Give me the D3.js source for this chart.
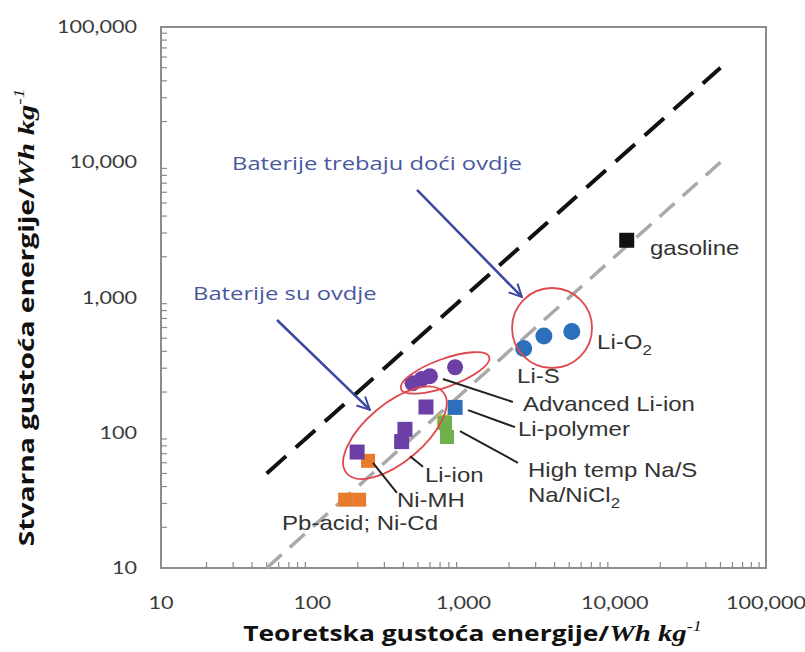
<!DOCTYPE html>
<meta charset="utf-8">
<script src="https://d3js.org/d3.v7.min.js"></script>
<style>
  body { margin: 0; background: #fff; }
  svg { display: block; }
</style>
<svg></svg>
<script>

    var width = 805, height = 652;
    var margin = ({top: 27, right: 39, bottom: 84, left: 161});

    // tick labels
    var tickValues = [10, 100, 1000, 10000, 100000];
    var tickLabels = ["10", "100", "1,000", "10,000", "100,000"];

    // series (theoretical Wh/kg, practical Wh/kg)
    var liO2_x = [2500, 3400, 5200];
    var liO2_y = [420, 520, 560];
    var liS_x = [460, 530, 600, 880];
    var liS_y = [232, 250, 262, 305];
    var liIon_x = [198, 390, 410, 565];
    var liIon_y = [72, 86, 106, 155];
    var liPoly_x = [880];
    var liPoly_y = [154];
    var naNiCl_x = [742];
    var naNiCl_y = [121];
    var naS_x = [755, 778];
    var naS_y = [118, 93];
    var niMH_x = [234];
    var niMH_y = [62];
    var pbNiCd_x = [165, 204];
    var pbNiCd_y = [32, 32];
    var gasoline_x = [12000];
    var gasoline_y = [2650];

    // reference lines
    var targetLine = [[50, 50], [50000, 50000]];
    var practicalLine = [[50, 10], [50000, 10000]];

    var x = d3.scaleLog().domain([10, 100000]).range([margin.left, width - margin.right]);
    var y = d3.scaleLog().domain([10, 100000]).range([height - margin.bottom, margin.top]);

    var svg = d3.select("svg")
        .attr("width", width)
        .attr("height", height)
        .attr("viewBox", [0, 0, width, height]);

    var labelFont = "'Liberation Sans', Arial, sans-serif";
    var tickFont = "Lato, 'Open Sans', sans-serif";
    var stretch = 1.2;   // the source figure is stretched sideways

    // minor ticks, pointing inward
    var minor = [];
    for (var k = 1; k < 5; k++) for (var m = 2; m <= 9; m++) minor.push(m * Math.pow(10, k));

    svg.append("g")
        .selectAll("line")
        .data(minor)
        .join("line")
        .attr("x1", d => x(d)).attr("x2", d => x(d))
        .attr("y1", y(10)).attr("y2", y(10) - 6)
        .attr("stroke", "#8a8a8a").attr("stroke-width", 1.2);

    svg.append("g")
        .selectAll("line")
        .data(minor)
        .join("line")
        .attr("y1", d => y(d)).attr("y2", d => y(d))
        .attr("x1", x(10)).attr("x2", x(10) + 6)
        .attr("stroke", "#8a8a8a").attr("stroke-width", 1.2);

    // frame
    svg.append("rect")
        .attr("x", x(10)).attr("y", y(100000))
        .attr("width", x(100000) - x(10))
        .attr("height", y(10) - y(100000))
        .attr("fill", "none")
        .attr("stroke", "#8c8c8c")
        .attr("stroke-width", 2);

    // tick labels
    svg.append("g")
        .selectAll("text")
        .data(tickValues)
        .join("text")
        .attr("transform", d => `translate(${x(d)},${y(10) + 41}) scale(${stretch},1)`)
        .attr("text-anchor", "middle")
        .attr("font-family", tickFont)
        .attr("font-size", 18)
        .attr("fill", "#3a3a3a")
        .text((d, i) => tickLabels[i]);

    svg.append("g")
        .selectAll("text")
        .data(tickValues)
        .join("text")
        .attr("transform", d => `translate(${x(10) - 24},${y(d) + 6}) scale(${stretch},1)`)
        .attr("text-anchor", "end")
        .attr("font-family", tickFont)
        .attr("font-size", 18)
        .attr("fill", "#3a3a3a")
        .text((d, i) => tickLabels[i]);

    // dashed reference lines
    var line = d3.line().x(d => x(d[0])).y(d => y(d[1]));

    svg.append("path")
        .attr("d", line(practicalLine))
        .attr("fill", "none")
        .attr("stroke", "#a9a9a9")
        .attr("stroke-width", 3.5)
        .attr("stroke-dasharray", "20,11");

    svg.append("path")
        .attr("d", line(targetLine))
        .attr("fill", "none")
        .attr("stroke", "#111")
        .attr("stroke-width", 4)
        .attr("stroke-dasharray", "26,13");

    // markers
    function squares(xs, ys, color, size) {
        svg.append("g")
            .selectAll("rect")
            .data(xs)
            .join("rect")
            .attr("x", d => x(d) - size / 2)
            .attr("y", (d, i) => y(ys[i]) - size / 2)
            .attr("width", size).attr("height", size)
            .attr("fill", color);
    }
    function dots(xs, ys, color, r) {
        svg.append("g")
            .selectAll("circle")
            .data(xs)
            .join("circle")
            .attr("cx", d => x(d))
            .attr("cy", (d, i) => y(ys[i]))
            .attr("r", r)
            .attr("fill", color);
    }

    squares(pbNiCd_x, pbNiCd_y, "#e87b2c", 14);
    squares(niMH_x, niMH_y, "#e87b2c", 14);
    squares(liIon_x, liIon_y, "#6b3fa6", 15);
    squares(naNiCl_x, naNiCl_y, "#b7c23e", 14);
    squares(naS_x, naS_y, "#6fb04c", 14);
    squares(liPoly_x, liPoly_y, "#2d6fba", 15);
    squares(gasoline_x, gasoline_y, "#111", 15);
    dots(liS_x, liS_y, "#6b3fa6", 8);
    dots(liO2_x, liO2_y, "#2d6fba", 8.5);

    // red ellipses
    var ellipses = [
        {cx: 3850, cy: 595, rx: 40, ry: 40, angle: 0},
        {cx: 755, cy: 277, rx: 47, ry: 14, angle: -20},
        {cx: 352, cy: 100, rx: 63, ry: 29, angle: -40}
    ];
    svg.append("g")
        .selectAll("ellipse")
        .data(ellipses)
        .join("ellipse")
        .attr("transform", d => `translate(${x(d.cx)},${y(d.cy)}) rotate(${d.angle})`)
        .attr("rx", d => d.rx).attr("ry", d => d.ry)
        .attr("fill", "none")
        .attr("stroke", "#e0474c")
        .attr("stroke-width", 1.8);

    // leader lines from markers to labels
    var leaders = [
        {from: [731, 250], to: [2120, 169]},
        {from: [1072, 147], to: [2190, 110]},
        {from: [948, 103], to: [2290, 60]},
        {from: [443, 67], to: [540, 56]},
        {from: [252, 60], to: [363, 36]}
    ];
    svg.append("g")
        .selectAll("line")
        .data(leaders)
        .join("line")
        .attr("x1", d => x(d.from[0])).attr("y1", d => y(d.from[1]))
        .attr("x2", d => x(d.to[0])).attr("y2", d => y(d.to[1]))
        .attr("stroke", "#222")
        .attr("stroke-width", 2);

    // labels
    var labels = [
        {t: "gasoline", at: [17100, 2060]},
        {t: "Li-O", sub: "2", at: [7640, 416]},
        {t: "Li-S", at: [2260, 233]},
        {t: "Advanced Li-ion", at: [2470, 145]},
        {t: "Li-polymer", at: [2290, 95]},
        {t: "High temp Na/S", at: [2670, 47]},
        {t: "Na/NiCl", sub: "2", at: [2670, 30.8]},
        {t: "Li-ion", at: [556, 43.3]},
        {t: "Ni-MH", at: [363, 28.3]},
        {t: "Pb-acid; Ni-Cd", at: [207, 19.1], anchor: "middle"}
    ];
    var lab = svg.append("g")
        .selectAll("text")
        .data(labels)
        .join("text")
        .attr("transform", d => `translate(${x(d.at[0])},${y(d.at[1])}) scale(${stretch},1)`)
        .attr("text-anchor", d => d.anchor || "start")
        .attr("font-family", labelFont)
        .attr("font-size", 20)
        .attr("fill", "#333");
    lab.append("tspan").text(d => d.t);
    lab.filter(d => d.sub).append("tspan")
        .attr("dy", 6).attr("font-size", 14)
        .text(d => d.sub);

    // blue annotations with arrows
    var blue = "#3b49a3";
    svg.append("defs").append("marker")
        .attr("id", "head")
        .attr("viewBox", "0 0 12 12")
        .attr("refX", 11).attr("refY", 6)
        .attr("markerWidth", 6).attr("markerHeight", 6)
        .attr("markerUnits", "strokeWidth")
        .attr("orient", "auto")
        .append("path")
        .attr("d", "M1,1 L11,6 L1,11")
        .attr("fill", "none")
        .attr("stroke", blue)
        .attr("stroke-width", 1.6);

    var notes = [
        {t: "Baterije trebaju doći ovdje", at: [29.5, 8770], from: [493, 6240], to: [2430, 1010]},
        {t: "Baterije su ovdje", at: [16.3, 955], from: [58.5, 682], to: [240, 148]}
    ];
    svg.append("g")
        .selectAll("line")
        .data(notes)
        .join("line")
        .attr("x1", d => x(d.from[0])).attr("y1", d => y(d.from[1]))
        .attr("x2", d => x(d.to[0])).attr("y2", d => y(d.to[1]))
        .attr("stroke", blue)
        .attr("stroke-width", 2.5)
        .attr("marker-end", "url(#head)");
    svg.append("g")
        .selectAll("text")
        .data(notes)
        .join("text")
        .attr("transform", d => `translate(${x(d.at[0])},${y(d.at[1])}) scale(1.32,1)`)
        .attr("font-family", "'Open Sans', sans-serif")
        .attr("font-size", 18)
        .attr("fill", "#4a58a0")
        .text(d => d.t);

    // axis titles
    function title(g, txt) {
        g.attr("text-anchor", "middle").attr("fill", "#111");
        g.append("tspan").attr("font-family", "'Open Sans', sans-serif").attr("font-weight", "bold").attr("font-size", 22).text(txt);
        g.append("tspan").attr("font-family", "'Liberation Serif', 'DejaVu Serif', serif").attr("font-style", "italic").attr("font-weight", "bold").attr("font-size", 24).text("Wh kg");
        g.append("tspan").attr("font-family", "'Liberation Serif', serif").attr("font-style", "italic").attr("font-size", 15).attr("dy", -10).text("-1");
    }
    svg.append("text")
        .attr("transform", `translate(${(x(10) + x(100000)) / 2 + 9},641) scale(${stretch},1)`)
        .call(title, "Teoretska gustoća energije/");

    svg.append("text")
        .attr("transform", `translate(34,${(y(10) + y(100000)) / 2 + 20}) rotate(-90) scale(1.28,1)`)
        .call(title, "Stvarna gustoća energije/");

</script>
